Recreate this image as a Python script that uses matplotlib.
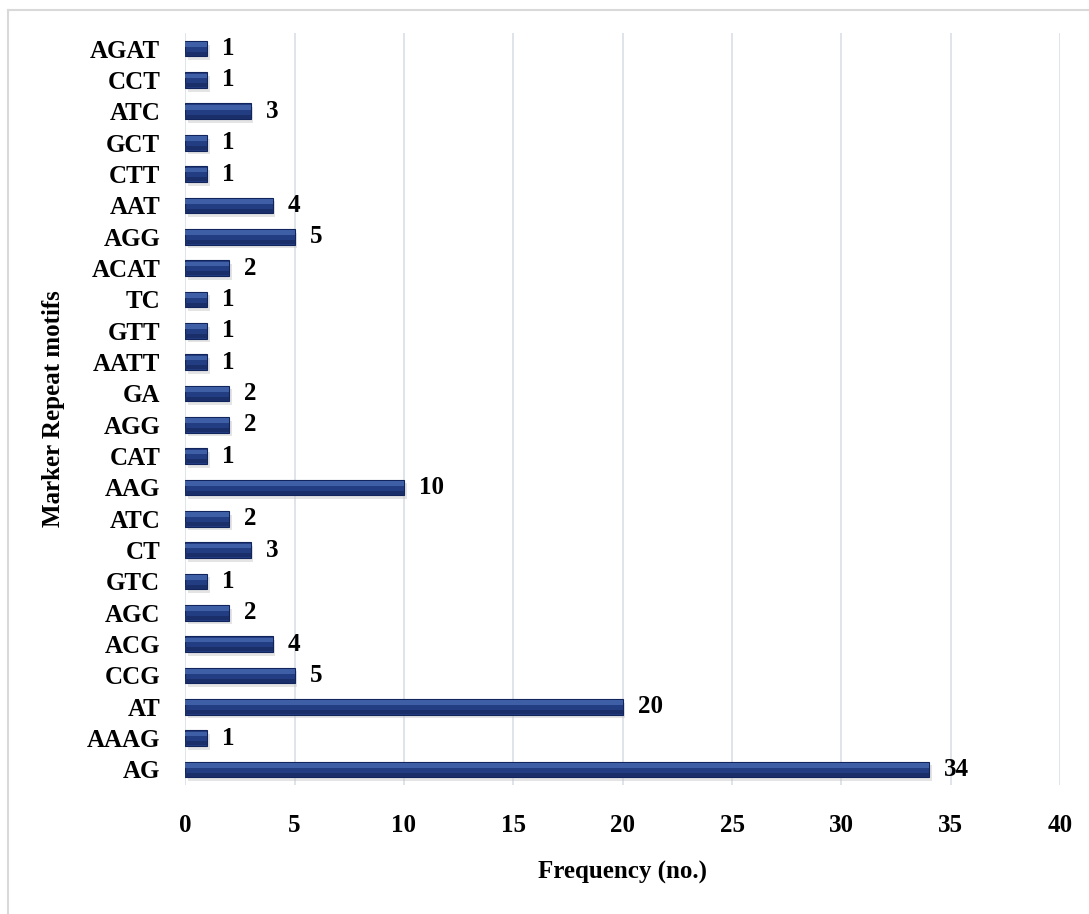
import matplotlib.pyplot as plt
import matplotlib.lines as mlines
import numpy as np

# Categories listed bottom to top
motifs = ['AG', 'AAAG', 'AT', 'CCG', 'ACG', 'AGC', 'GTC', 'CT', 'ATC', 'AAG',
          'CAT', 'AGG', 'GA', 'AATT', 'GTT', 'TC', 'ACAT', 'AGG', 'AAT', 'CTT',
          'GCT', 'ATC', 'CCT', 'AGAT']
counts = [34, 1, 20, 5, 4, 2, 1, 3, 2, 10,
          1, 2, 2, 1, 1, 1, 2, 5, 4, 1,
          1, 3, 1, 1]
x_ticks = [0, 5, 10, 15, 20, 25, 30, 35, 40]

plt.rcParams['font.family'] = ['Liberation Serif', 'DejaVu Serif']
plt.rcParams['font.weight'] = 'bold'
FS = 18

fig = plt.figure(figsize=(10.89, 9.14), dpi=100)
ax = fig.add_axes([0.170, 0.1411, 0.8035, 0.8228])

# chart area border (only top and left visible in the original)
fig.add_artist(mlines.Line2D([0.0075, 1.0], [0.989, 0.989], transform=fig.transFigure,
                             color='#D9D9D9', linewidth=1.5))
fig.add_artist(mlines.Line2D([0.0075, 0.0075], [0.0, 0.989], transform=fig.transFigure,
                             color='#D9D9D9', linewidth=1.5))

y = np.arange(len(motifs))
h = 0.5

# soft shadow, main bar, bevel bands (light top, dark bottom)
ax.barh(y - 0.12, counts, height=h, left=0.12, color='#C4C4C4', alpha=0.45, zorder=2)
ax.barh(y, counts, height=h, color='#233D82', edgecolor='#11245C', linewidth=0.8, zorder=3)
ax.barh(y + 0.13, counts, height=0.15, color='#3E5EA6', linewidth=0, zorder=4)
ax.barh(y - 0.17, counts, height=0.13, color='#1A2F6A', linewidth=0, zorder=4)

for yi, c in zip(y, counts):
    ax.text(c + 0.7, yi, str(c), va='center', ha='left', fontsize=FS,
            fontweight='bold', zorder=5)

ax.set_xlim(0, 40)
ax.set_ylim(-0.5, len(motifs) - 0.5)
ax.set_xticks(x_ticks)
ax.set_yticks(y)
ax.set_yticklabels(motifs)
ax.tick_params(axis='x', length=0, pad=21, labelsize=FS)
ax.tick_params(axis='y', length=0, pad=18, labelsize=FS)
for lbl in ax.get_xticklabels() + ax.get_yticklabels():
    lbl.set_fontweight('bold')

ax.grid(axis='x', color='#D9DEE6', linewidth=1.2, zorder=0)
ax.set_axisbelow(True)
for s in ax.spines.values():
    s.set_visible(False)

ax.set_xlabel('Frequency (no.)', fontsize=FS, fontweight='bold')
ax.xaxis.set_label_coords(0.5, -0.101)
ax.set_ylabel('Marker Repeat motifs', fontsize=FS, fontweight='bold')
ax.yaxis.set_label_coords(-0.137, 0.5)

fig.savefig('out.png', dpi=100)
